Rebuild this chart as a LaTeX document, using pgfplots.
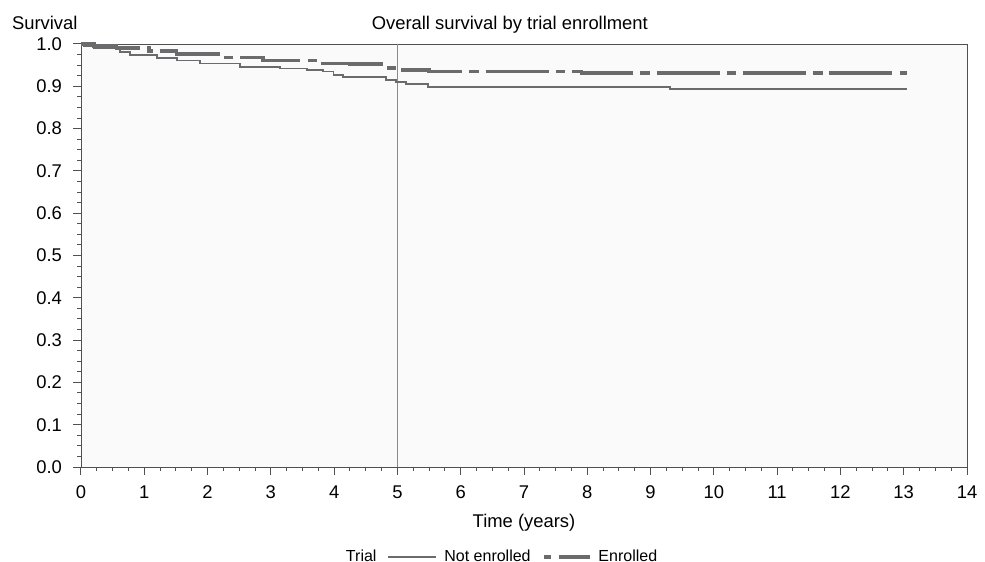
\documentclass[border=0pt]{standalone}
\usepackage{fontspec}
\setmainfont{Liberation Sans}
\usepackage{pgfplots}
\pgfplotsset{compat=1.18}
\definecolor{curve}{HTML}{6B6B6E}
\definecolor{refline}{HTML}{8A8A8A}
\definecolor{axisc}{HTML}{505050}
\definecolor{panel}{HTML}{FAFAFA}

\begin{document}
\fontsize{9.2}{11}\selectfont
\begin{tikzpicture}
\begin{axis}[
    scale only axis,
    width=443pt, height=211.5pt,
    xmin=0, xmax=14, ymin=0, ymax=1,
    xtick={0,1,...,14}, ytick={0,0.1,...,1.0},
    minor x tick num=3, minor y tick num=3,
    tick align=outside, xtick pos=bottom, ytick pos=left,
    major tick length=3.8pt, minor tick length=1.9pt,
    tick style={axisc, line width=0.5pt},
    axis line style={axisc, line width=0.45pt},
    axis background/.style={fill=panel},
    /pgf/number format/assume math mode=true,
    yticklabel style={/pgf/number format/fixed, /pgf/number format/fixed zerofill, /pgf/number format/precision=1, xshift=-2.5pt},
    xticklabel style={yshift=-2.5pt},
    xlabel={Time (years)},
    xlabel style={yshift=-1pt},
    clip=false,
    legend style={draw=none, fill=none, at={(rel axis cs:0.473,0)}, anchor=center, yshift=-45pt,
        font=\fontsize{8}{10}\selectfont, inner sep=0pt,
        legend columns=3, column sep=1.5pt, /tikz/every even column/.append style={column sep=3.5pt}},
    legend cell align=left,
]
% reference line at 5 years
\draw[refline, line width=0.5pt] (axis cs:5,0) -- (axis cs:5,1);

\addlegendimage{empty legend}
\addlegendentry{Trial}

% Not enrolled
\addplot[const plot, curve, line width=0.95pt,
    legend image code/.code={\draw[curve, line width=0.95pt] (0pt,0pt) -- (24pt,0pt);}] coordinates {
    (0,1.000)(0.05,0.994)(0.2,0.990)(0.62,0.982)(0.77,0.974)(1.2,0.967)(1.51,0.961)
    (1.88,0.954)(2.51,0.946)(3.14,0.942)(3.57,0.938)(3.83,0.935)(3.99,0.927)
    (4.14,0.923)(4.61,0.921)(4.82,0.915)(4.98,0.911)(5.14,0.905)(5.49,0.899)
    (9.3,0.893)(13.05,0.893)
};
\addlegendentry{Not enrolled}

% Enrolled
\addplot[const plot, curve, line width=1.9pt, dash pattern=on 31.5pt off 3.6pt on 4.7pt off 3.4pt,
    legend image code/.code={\draw[curve, line width=1.9pt, dash pattern=on 3.5pt off 4pt on 15.5pt] (0pt,0pt) -- (23pt,0pt);}] coordinates {
    (0,1.000)(0.2,0.995)(0.56,0.990)(1.08,0.983)(1.51,0.976)(2.25,0.968)(2.88,0.961)
    (3.73,0.954)(4.25,0.952)(4.78,0.950)(4.86,0.943)(5.04,0.939)(5.5,0.935)
    (7.91,0.931)(13.05,0.931)
};
\addlegendentry{Enrolled}

\node[anchor=base] at (rel axis cs:0.484,1) [yshift=7pt] {Overall survival by trial enrollment};
\node[anchor=base east] at (rel axis cs:0,1) [xshift=1.5pt, yshift=7pt] {Survival};
\end{axis}
\pgfresetboundingbox
\useasboundingbox ([shift={(-40.5pt,-47.5pt)}]current axis.south west) rectangle ([shift={(9pt,22pt)}]current axis.north east);
\end{tikzpicture}
\end{document}
